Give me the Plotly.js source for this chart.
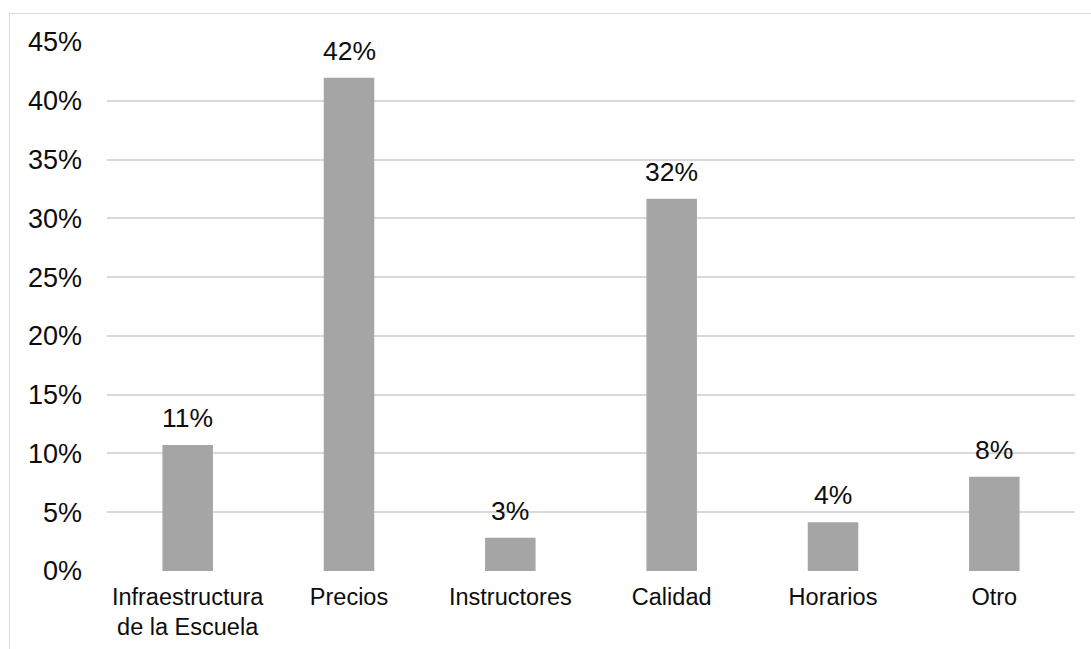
<!DOCTYPE html>
<html>
<head>
<meta charset="utf-8">
<script src="https://cdn.plot.ly/plotly-3.0.1.min.js"></script>
<style>
  html, body { margin: 0; padding: 0; background: #fff; }
  #wrap { position: relative; width: 1091px; height: 649px; overflow: hidden; }
  #frame { position: absolute; left: 9px; top: 13px; width: 1100px; height: 700px;
           border-left: 1.5px solid #d9d9d9; border-top: 1.5px solid #d9d9d9; pointer-events: none; }
  #chart { position: absolute; left: 0; top: 0; width: 1091px; height: 649px; }
</style>
</head>
<body>
<div id="wrap">
  <div id="chart"></div>
  <div id="frame"></div>
</div>
<script>
const categories = ["Infraestructura<br>de la Escuela", "Precios", "Instructores", "Calidad", "Horarios", "Otro"];
const values = [0.1072, 0.4196, 0.0283, 0.3167, 0.0414, 0.0802];
const tickValues = [0, 0.05, 0.10, 0.15, 0.20, 0.25, 0.30, 0.35, 0.40, 0.45];
const tickLabels = ["0%", "5%", "10%", "15%", "20%", "25%", "30%", "35%", "40%", "45%"];

const FONT = "Arial, 'Liberation Sans', sans-serif";

const trace = {
  type: "bar",
  x: categories,
  y: values,
  marker: { color: "#a5a5a5" },
  hoverinfo: "none"
};

const annotations = categories.map((c, i) => ({
  x: c,
  y: values[i],
  xref: "x",
  yref: "y",
  text: Math.round(values[i] * 100) + "%",
  showarrow: false,
  yanchor: "bottom",
  yshift: 10,
  font: { family: FONT, size: 26.5, color: "#0d0d0d" }
}));

const layout = {
  width: 1091,
  height: 649,
  margin: { l: 107, r: 16, t: 42, b: 78 },
  paper_bgcolor: "rgba(0,0,0,0)",
  plot_bgcolor: "rgba(0,0,0,0)",
  showlegend: false,
  bargap: 0.687,
  font: { family: FONT, color: "#0d0d0d" },
  xaxis: {
    showgrid: false,
    zeroline: false,
    showline: false,
    ticks: "",
    tickfont: { family: FONT, size: 23.5, color: "#0d0d0d" },
    ticklabelstandoff: 9
  },
  yaxis: {
    range: [0, 0.45],
    tickvals: tickValues,
    ticktext: tickLabels,
    showgrid: true,
    gridcolor: "#d9d9d9",
    gridwidth: 2,
    zeroline: false,
    showline: false,
    ticks: "",
    ticklabelstandoff: 24,
    tickfont: { family: FONT, size: 27, color: "#0d0d0d" }
  },
  annotations: annotations
};

Plotly.newPlot("chart", [trace], layout, { displayModeBar: false, staticPlot: true });
</script>
</body>
</html>
